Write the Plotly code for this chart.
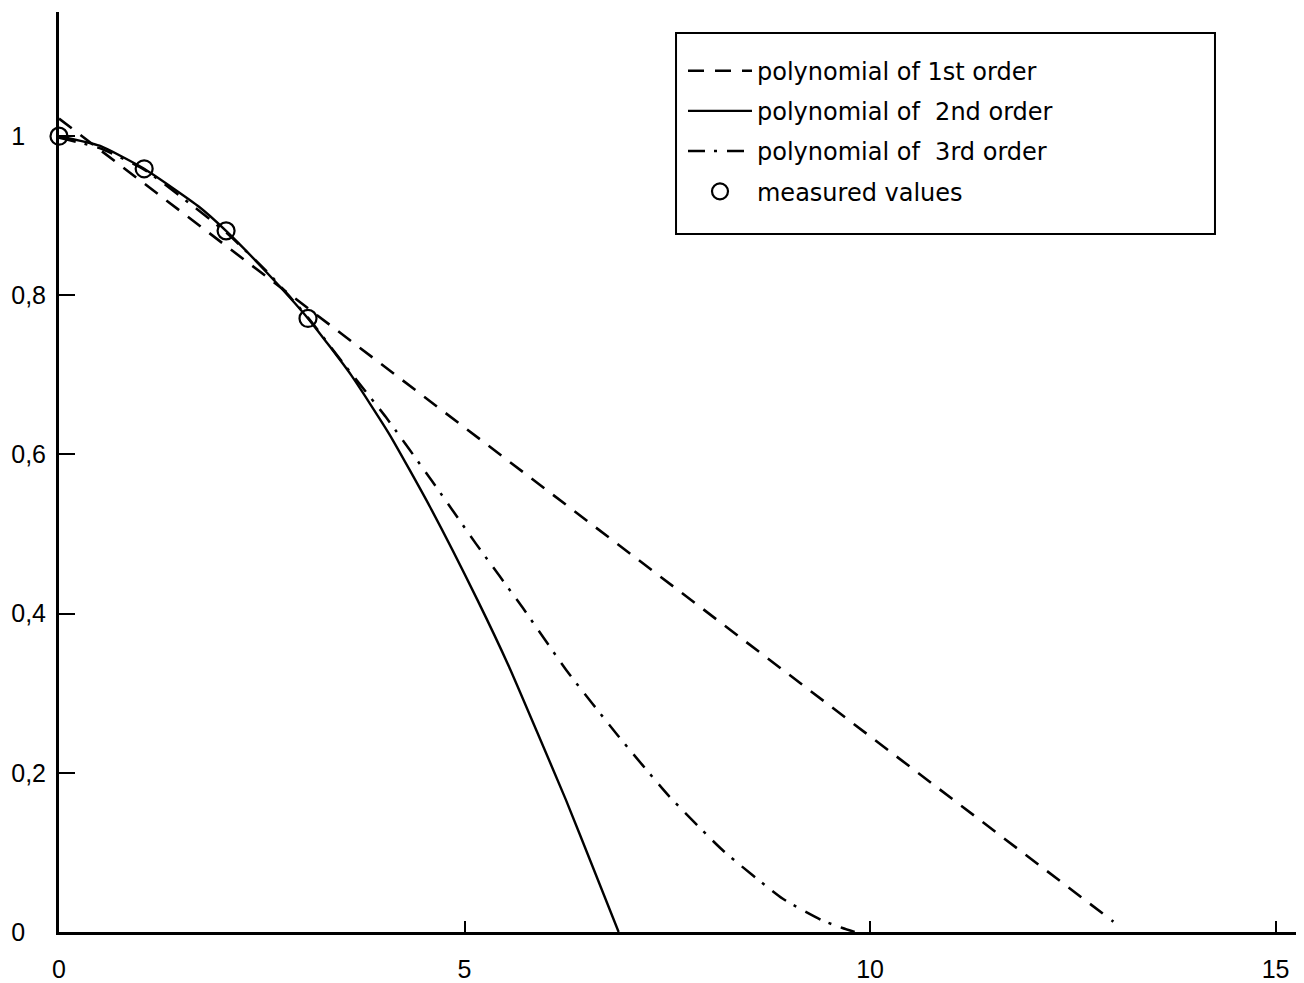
import plotly.graph_objects as go

# ---- data ----
x_meas = [0.0, 1.05, 2.06, 3.07]
y_meas = [1.0, 0.959, 0.881, 0.771]

x_lin = [0.0, 13.0]
y_lin = [1.022, 0.013]

x_quad = [0.0, 0.5, 1.05, 1.73, 2.06, 2.55, 3.07, 3.6, 4.07, 4.57, 5.16, 5.55, 5.9, 6.25, 6.58, 6.9]
y_quad = [1.0, 0.988, 0.959, 0.911, 0.881, 0.830, 0.771, 0.70, 0.626, 0.535, 0.417, 0.333, 0.25, 0.166, 0.082, 0.0]

x_cub = [0.0, 0.5, 1.05, 2.06, 2.6, 3.07, 3.54, 4.03, 4.59, 5.14, 5.72, 6.27, 6.89, 7.51, 8.18, 8.92, 9.4, 9.66, 9.81]
y_cub = [0.998, 0.985, 0.958, 0.879, 0.826, 0.772, 0.71, 0.647, 0.568, 0.488, 0.407, 0.327, 0.247, 0.172, 0.103, 0.042, 0.015, 0.005, 0.0]

x_tickvals = [0, 5, 10, 15]
x_ticktext = ["0", "5", "10", "15"]
y_tickvals = [0, 0.2, 0.4, 0.6, 0.8, 1.0]
y_ticktext = ["0\u00a0\u00a0\u00a0", "0,2", "0,4", "0,6", "0,8", "1\u00a0\u00a0\u00a0"]

names = ["polynomial of 1st order",
         "polynomial of \u00a02nd order",
         "polynomial of \u00a03rd order",
         "measured values"]

fig = go.Figure()
fig.add_trace(go.Scatter(x=x_lin, y=y_lin, mode="lines", name=names[0], legendgroup="a",
                         line=dict(color="black", width=2.6, dash="16px,11px")))
fig.add_trace(go.Scatter(x=x_quad, y=y_quad, mode="lines", name=names[1], legendgroup="b",
                         line=dict(color="black", width=2.4, shape="spline", smoothing=0.5)))
fig.add_trace(go.Scatter(x=x_cub, y=y_cub, mode="lines", name=names[2], legendgroup="c",
                         line=dict(color="black", width=2.5, dash="17px,9px,3px,10px",
                                   shape="spline", smoothing=0.5)))
fig.add_trace(go.Scatter(x=x_meas, y=y_meas, mode="markers", name=names[3], legendgroup="d",
                         cliponaxis=False,
                         marker=dict(symbol="circle-open", size=17, color="black",
                                     line=dict(width=2.2, color="black"))))

fig.add_shape(type="rect", xref="paper", yref="paper",
              x0=0.4956, x1=0.9285, y0=0.7587, y1=0.9772,
              line=dict(color="black", width=2), fillcolor="rgba(0,0,0,0)")

fig.update_layout(
    width=1296, height=975,
    margin=dict(l=51, r=0, t=4, b=51),
    paper_bgcolor="white", plot_bgcolor="white",
    font=dict(family="Liberation Sans, Arial, sans-serif", size=25, color="black"),
    showlegend=True,
    legend=dict(x=0.5012, y=0.9602, xanchor="left", yanchor="top",
                bgcolor="rgba(0,0,0,0)", borderwidth=0,
                font=dict(family="DejaVu Sans", size=24, color="black"),
                itemwidth=64, traceorder="grouped", tracegroupgap=6),
    xaxis=dict(range=[0, 15.35], showgrid=False, zeroline=False,
               showline=True, linecolor="black", linewidth=3,
               ticks="inside", ticklen=11, tickwidth=2, tickcolor="black",
               tickvals=x_tickvals, ticktext=x_ticktext, ticklabelstandoff=13),
    yaxis=dict(range=[0, 1.156], showgrid=False, zeroline=False,
               showline=True, linecolor="black", linewidth=3,
               ticks="inside", ticklen=16, tickwidth=2, tickcolor="black",
               tickvals=y_tickvals, ticktext=y_ticktext, ticklabelstandoff=5),
)

fig.write_html("out.html")
